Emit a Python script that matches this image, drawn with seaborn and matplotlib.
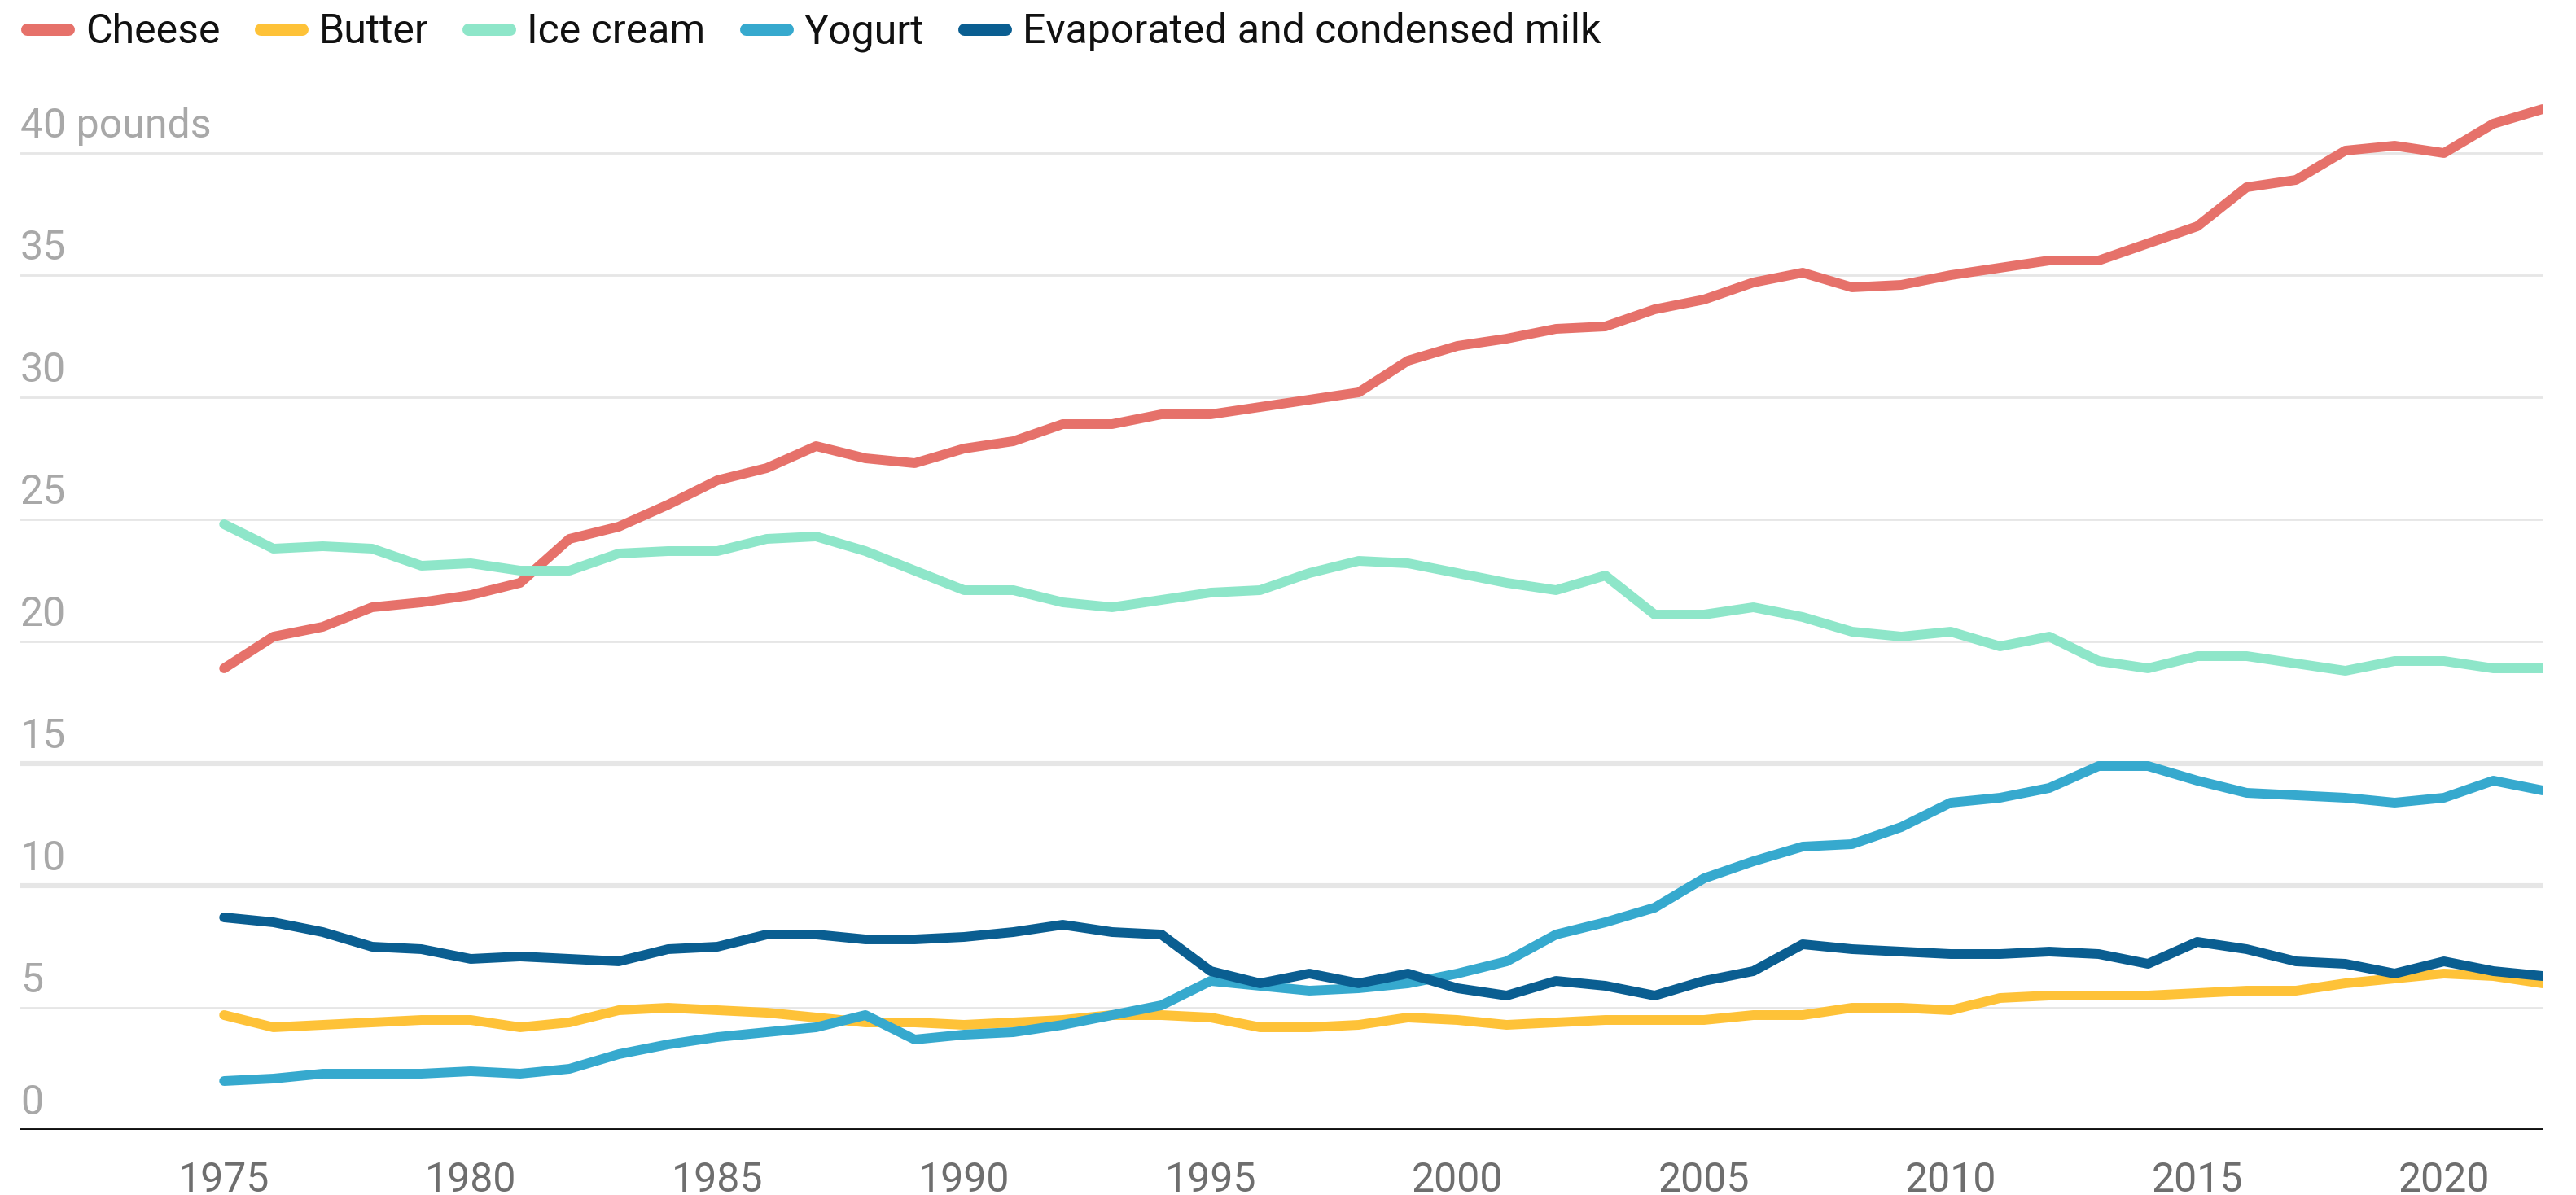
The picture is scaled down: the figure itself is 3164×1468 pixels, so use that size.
import matplotlib
matplotlib.use("Agg")
import matplotlib.pyplot as plt
from matplotlib.lines import Line2D
from matplotlib.transforms import blended_transform_factory, offset_copy
import numpy as np
import pandas as pd
import seaborn as sns

# ---- data (pounds per person) ----
years = list(range(1975, 2023))

cheese = [18.9, 20.2, 20.6, 21.4, 21.6, 21.9, 22.4, 24.2, 24.7, 25.6,
          26.6, 27.1, 28.0, 27.5, 27.3, 27.9, 28.2, 28.9, 28.9, 29.3,
          29.3, 29.6, 29.9, 30.2, 31.5, 32.1, 32.4, 32.8, 32.9, 33.6,
          34.0, 34.7, 35.1, 34.5, 34.6, 35.0, 35.3, 35.6, 35.6, 36.3,
          37.0, 38.6, 38.9, 40.1, 40.3, 40.0, 41.2, 41.8]
butter = [4.7, 4.2, 4.3, 4.4, 4.5, 4.5, 4.2, 4.4, 4.9, 5.0,
          4.9, 4.8, 4.6, 4.4, 4.4, 4.3, 4.4, 4.5, 4.7, 4.7,
          4.6, 4.2, 4.2, 4.3, 4.6, 4.5, 4.3, 4.4, 4.5, 4.5,
          4.5, 4.7, 4.7, 5.0, 5.0, 4.9, 5.4, 5.5, 5.5, 5.5,
          5.6, 5.7, 5.7, 6.0, 6.2, 6.4, 6.3, 6.0]
ice_cream = [24.8, 23.8, 23.9, 23.8, 23.1, 23.2, 22.9, 22.9, 23.6, 23.7,
             23.7, 24.2, 24.3, 23.7, 22.9, 22.1, 22.1, 21.6, 21.4, 21.7,
             22.0, 22.1, 22.8, 23.3, 23.2, 22.8, 22.4, 22.1, 22.7, 21.1,
             21.1, 21.4, 21.0, 20.4, 20.2, 20.4, 19.8, 20.2, 19.2, 18.9,
             19.4, 19.4, 19.1, 18.8, 19.2, 19.2, 18.9, 18.9]
yogurt = [2.0, 2.1, 2.3, 2.3, 2.3, 2.4, 2.3, 2.5, 3.1, 3.5,
          3.8, 4.0, 4.2, 4.7, 3.7, 3.9, 4.0, 4.3, 4.7, 5.1,
          6.1, 5.9, 5.7, 5.8, 6.0, 6.4, 6.9, 8.0, 8.5, 9.1,
          10.3, 11.0, 11.6, 11.7, 12.4, 13.4, 13.6, 14.0, 14.9, 14.9,
          14.3, 13.8, 13.7, 13.6, 13.4, 13.6, 14.3, 13.9]
evap_milk = [8.7, 8.5, 8.1, 7.5, 7.4, 7.0, 7.1, 7.0, 6.9, 7.4,
             7.5, 8.0, 8.0, 7.8, 7.8, 7.9, 8.1, 8.4, 8.1, 8.0,
             6.5, 6.0, 6.4, 6.0, 6.4, 5.8, 5.5, 6.1, 5.9, 5.5,
             6.1, 6.5, 7.6, 7.4, 7.3, 7.2, 7.2, 7.3, 7.2, 6.8,
             7.7, 7.4, 6.9, 6.8, 6.4, 6.9, 6.5, 6.3]

products = ["Cheese", "Butter", "Ice cream", "Yogurt", "Evaporated and condensed milk"]
series = [cheese, butter, ice_cream, yogurt, evap_milk]
colors = ["#e6716a", "#fec238", "#8ee6c9", "#36a9ce", "#0a5e91"]

y_ticks = [0, 5, 10, 15, 20, 25, 30, 35, 40]
x_ticks = [1975, 1980, 1985, 1990, 1995, 2000, 2005, 2010, 2015, 2020]

df = pd.DataFrame({
    "year": years * len(products),
    "pounds": [v for s in series for v in s],
    "product": [p for p in products for _ in years],
})

# ---- style ----
sns.set_theme(style="white")
plt.rcParams["font.family"] = ["Roboto", "DejaVu Sans"]
plt.rcParams["lines.solid_capstyle"] = "round"
plt.rcParams["lines.solid_joinstyle"] = "round"

FS = 18

fig = plt.figure(figsize=(15.82, 7.34), dpi=200)
ax = fig.add_axes([25 / 3164, 80 / 1468, (3123 - 25) / 3164, 1290 / 1468])

sns.lineplot(data=df, x="year", y="pounds", hue="product", hue_order=products,
             palette=dict(zip(products, colors)), linewidth=4.3, legend=False,
             ax=ax, zorder=3)

ax.set_xlim(1970.87, 2022)
ax.set_ylim(0, 43)

# gridlines (the 10/15 lines look heavier in the reference)
for v in y_ticks[1:]:
    lw = 2.2 if v in (10, 15) else 1.0
    ax.axhline(v, color="#e6e6e6", linewidth=lw, zorder=1)
ax.axhline(0, color="#111111", linewidth=1.4, zorder=4)

# y labels sit above their gridline, left aligned
trans = blended_transform_factory(ax.transAxes, ax.transData)
trans = offset_copy(trans, fig=fig, x=0, y=6.8, units="points")
for v in y_ticks:
    label = f"{v} pounds" if v == 40 else str(v)
    ax.text(0, v, label, transform=trans, ha="left", va="baseline",
            fontsize=FS, color="#a8a8a8")

ax.set_yticks([])
ax.set_xticks(x_ticks)
ax.set_xticklabels([str(x) for x in x_ticks], fontsize=FS, color="#6e6e6e")
ax.tick_params(axis="x", length=0, pad=13.5)
ax.set_xlabel("")
ax.set_ylabel("")
for s in ax.spines.values():
    s.set_visible(False)

# legend across the top
handles = [Line2D([0], [0], color=c, linewidth=5.4, solid_capstyle="round")
           for c in colors]
fig.legend(handles, products, loc="upper left",
           bbox_to_anchor=(33 / 3164, 1 - 15 / 1468), ncol=5, frameon=False,
           fontsize=FS, handlelength=1.02, handletextpad=0.42,
           columnspacing=0.98, borderpad=0, borderaxespad=0,
           labelcolor="#111111")

fig.savefig("out.png", dpi=200, facecolor="white")
